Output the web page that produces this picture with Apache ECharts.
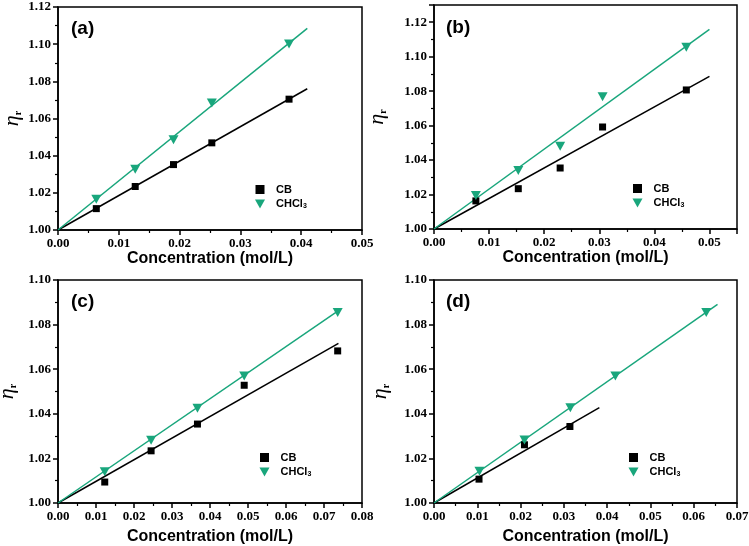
<!DOCTYPE html>
<html>
<head>
<meta charset="utf-8">
<script src="https://cdn.jsdelivr.net/npm/echarts@6/dist/echarts.min.js"></script>
<style>
html,body{margin:0;padding:0;background:#fff;}
#chart{width:749px;height:546px;}
</style>
</head>
<body>
<div id="chart"></div>
<script>
// ---- data ----
const panelLabels = ['(a)', '(b)', '(c)', '(d)'];
const seriesNames = ['CB', 'CHCl3'];
const xAxisName = 'Concentration (mol/L)';

// panel (a)
const aX = [0.0063, 0.0127, 0.0190, 0.0253, 0.0380];
const aCB = [1.0115, 1.0234, 1.0352, 1.0469, 1.0704];
const aCHCl3 = [1.0165, 1.0327, 1.0485, 1.0684, 1.1001];
const aFitCB = [[0, 1.0], [0.041, 1.076]];
const aFitCHCl3 = [[0, 1.0], [0.041, 1.1085]];

// panel (b)
const bX = [0.0076, 0.0153, 0.0229, 0.0306, 0.0458];
const bCB = [1.0163, 1.0234, 1.0354, 1.0592, 1.0807];
const bCHCl3 = [1.0194, 1.0339, 1.0480, 1.0768, 1.1055];
const bFitCB = [[0, 1.0], [0.05, 1.0886]];
const bFitCHCl3 = [[0, 1.0], [0.05, 1.1159]];

// panel (c)
const cX = [0.0123, 0.0245, 0.0367, 0.0490, 0.0736];
const cCB = [1.0094, 1.0234, 1.0354, 1.0528, 1.0682];
const cCHCl3 = [1.0140, 1.0281, 1.0425, 1.0570, 1.0854];
const cFitCB = [[0, 1.0], [0.0738, 1.0716]];
const cFitCHCl3 = [[0, 1.0], [0.0738, 1.0863]];

// panel (d)
const dXCB = [0.0104, 0.0209, 0.0314];
const dCB = [1.0107, 1.0261, 1.0343];
const dXCHCl3 = [0.0105, 0.0209, 0.0315, 0.0419, 0.0629];
const dCHCl3 = [1.0142, 1.0282, 1.0427, 1.0569, 1.0854];
const dFitCB = [[0, 1.0], [0.0382, 1.0428]];
const dFitCHCl3 = [[0, 1.0], [0.0655, 1.0891]];

// axis ranges
const xRanges = [[0, 0.05], [0, 0.055], [0, 0.08], [0, 0.07]];
const yRanges = [[1.00, 1.12], [1.00, 1.13], [1.00, 1.10], [1.00, 1.10]];
const xMaxLabelShown = [true, false, true, true];
const yMaxLabelShown = [true, false, true, true];

// ---- layout / style ----
const GREEN = '#19a67c';
const grids = [
  {left: 58, top: 7, width: 304, height: 223},
  {left: 434, top: 5, width: 303, height: 224},
  {left: 58, top: 280, width: 304, height: 223},
  {left: 434, top: 280, width: 303, height: 223}
];
const xNameGaps = [21, 21, 26, 26];
const yNameGaps = [35, 46, 40, 43];
const legendPos = [
  {left: 250, top: 179},
  {left: 627.5, top: 178},
  {left: 254.5, top: 447},
  {left: 623.5, top: 447}
];
const labelPos = [
  {left: 71, top: 19},
  {left: 446, top: 18},
  {left: 71, top: 292},
  {left: 446, top: 292}
];

const zip = (xs, ys) => xs.map((x, i) => [x, ys[i]]);
const panels = [
  {cb: zip(aX, aCB), ch: zip(aX, aCHCl3), fcb: aFitCB, fch: aFitCHCl3},
  {cb: zip(bX, bCB), ch: zip(bX, bCHCl3), fcb: bFitCB, fch: bFitCHCl3},
  {cb: zip(cX, cCB), ch: zip(cX, cCHCl3), fcb: cFitCB, fch: cFitCHCl3},
  {cb: zip(dXCB, dCB), ch: zip(dXCHCl3, dCHCl3), fcb: dFitCB, fch: dFitCHCl3}
];

const TRI = 'path://M0,0L10,0L5,9Z';
const SQ = 'path://M0,0L8,0L8,8L0,8Z';
const tickFont = {color: '#000', fontFamily: 'Liberation Serif', fontWeight: 'bold', fontSize: 13};

const option = {
  animation: false,
  backgroundColor: '#fff',
  grid: grids.map(g => Object.assign({show: true, borderColor: '#000', borderWidth: 1.5, backgroundColor: 'transparent',
    containLabel: false, outerBoundsMode: 'none'}, g)),
  xAxis: grids.map((g, i) => ({
    type: 'value', gridIndex: i,
    min: xRanges[i][0], max: xRanges[i][1], interval: 0.01,
    name: xAxisName, nameLocation: 'middle', nameGap: xNameGaps[i],
    nameTextStyle: {color: '#000', fontFamily: 'Liberation Sans', fontWeight: 'bold', fontSize: 16},
    axisLine: {show: true, onZero: false, lineStyle: {color: '#000', width: 1.5}},
    axisTick: {show: true, inside: false, length: 5, lineStyle: {color: '#000', width: 1.5}},
    minorTick: {show: true, splitNumber: 2, length: 3, lineStyle: {color: '#000', width: 1.2}},
    splitLine: {show: false},
    axisLabel: Object.assign({margin: 7, showMaxLabel: xMaxLabelShown[i], formatter: v => v.toFixed(2)}, tickFont)
  })),
  yAxis: grids.map((g, i) => ({
    type: 'value', gridIndex: i,
    min: yRanges[i][0], max: yRanges[i][1], interval: 0.02,
    name: '{e|η}{r|r}', nameLocation: 'middle', nameGap: yNameGaps[i], nameRotate: 90,
    nameTextStyle: {
      color: '#000',
      rich: {
        e: {fontFamily: 'Liberation Serif', fontStyle: 'italic', fontSize: 22, color: '#000', verticalAlign: 'middle'},
        r: {fontFamily: 'Liberation Serif', fontWeight: 'bold', fontSize: 10, color: '#000', verticalAlign: 'bottom', padding: [8, 0, 0, 0]}
      }
    },
    axisLine: {show: true, onZero: false, lineStyle: {color: '#000', width: 1.5}},
    axisTick: {show: true, inside: false, length: 5, lineStyle: {color: '#000', width: 1.5}},
    minorTick: {show: true, splitNumber: 2, length: 3, lineStyle: {color: '#000', width: 1.2}},
    splitLine: {show: false},
    axisLabel: Object.assign({margin: 7, showMaxLabel: yMaxLabelShown[i], formatter: v => v.toFixed(2)}, tickFont)
  })),
  legend: grids.map((g, i) => ({
    orient: 'vertical',
    left: legendPos[i].left, top: legendPos[i].top,
    itemWidth: 22, itemHeight: 9, itemGap: 2,
    selectedMode: false,
    data: [{name: 'CB', icon: SQ}, {name: 'CHCl3', icon: TRI}],
    formatter: n => n === 'CHCl3' ? '{n|CHCl}{s|3}' : '{n|CB}',
    textStyle: {
      color: '#000',
      rich: {
        n: {fontFamily: 'Liberation Sans', fontWeight: 'bold', fontSize: 11, color: '#000', lineHeight: 12},
        s: {fontFamily: 'Liberation Sans', fontWeight: 'bold', fontSize: 7, color: '#000', verticalAlign: 'bottom', lineHeight: 8, padding: [6, 0, 0, 0]}
      }
    }
  })),
  graphic: labelPos.map((p, i) => ({
    type: 'text', left: p.left, top: p.top,
    style: {text: panelLabels[i], font: 'bold 19px "Liberation Sans"', fill: '#000'}
  })),
  series: []
};

panels.forEach((p, i) => {
  option.series.push(
    {type: 'line', name: 'fitCB' + i, xAxisIndex: i, yAxisIndex: i, data: p.fcb,
      showSymbol: false, silent: true, lineStyle: {color: '#000', width: 1.5}, itemStyle: {color: '#000'}, z: 2},
    {type: 'line', name: 'fitCHCl3' + i, xAxisIndex: i, yAxisIndex: i, data: p.fch,
      showSymbol: false, silent: true, lineStyle: {color: GREEN, width: 1.5}, itemStyle: {color: GREEN}, z: 2},
    {type: 'scatter', name: seriesNames[0], xAxisIndex: i, yAxisIndex: i, data: p.cb,
      symbol: SQ, symbolSize: 7, itemStyle: {color: '#000', opacity: 1}, z: 3},
    {type: 'scatter', name: seriesNames[1], xAxisIndex: i, yAxisIndex: i, data: p.ch,
      symbol: TRI, symbolSize: [10, 9], itemStyle: {color: GREEN, opacity: 1}, z: 3}
  );
});

const chart = echarts.init(document.getElementById('chart'));
chart.setOption(option);
</script>
</body>
</html>
